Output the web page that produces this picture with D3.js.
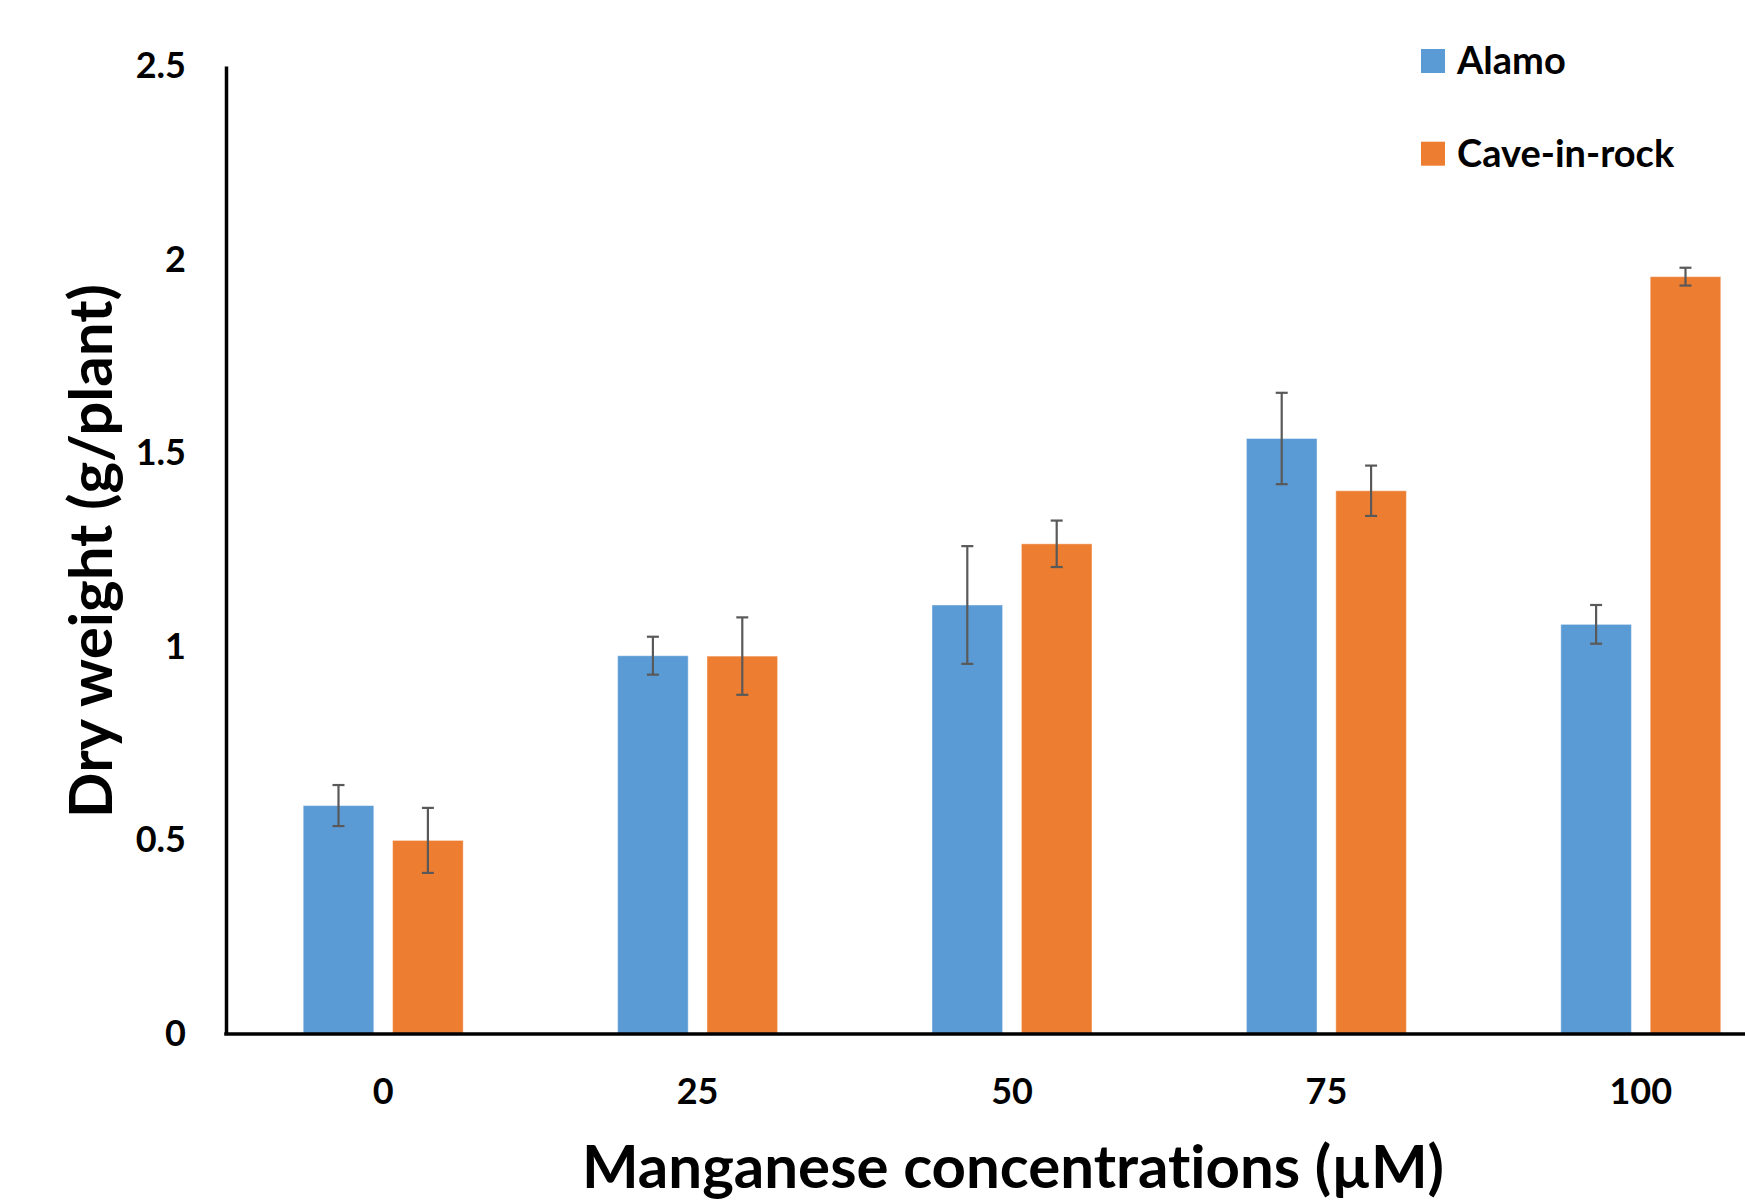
<!DOCTYPE html>
<meta charset="utf-8">
<style>
  body {
    margin: 0;
    background: #fff;
    font-family: Lato, "Open Sans", Arial, sans-serif;
  }

  text {
    font-weight: bold;
    fill: #000;
    font-variant-ligatures: none;
  }
</style>
<body>
  <svg id="chart" width="1745" height="1204"></svg>
</body>

<script src="https://d3js.org/d3.v7.min.js"></script>
<script>
  // data
  var concentrations = ["0", "25", "50", "75", "100"];
  var seriesNames = ["Alamo", "Cave-in-rock"];
  var seriesColors = ["#5B9BD5", "#ED7D31"];
  var alamo = [0.59, 0.977, 1.108, 1.538, 1.058];
  var alamoErr = [0.053, 0.049, 0.152, 0.118, 0.05];
  var caveInRock = [0.50, 0.976, 1.266, 1.403, 1.956];
  var caveInRockErr = [0.084, 0.10, 0.06, 0.065, 0.023];
  var yTicks = [0, 0.5, 1, 1.5, 2, 2.5];

  (function () {
    var values = [alamo, caveInRock],
      errors = [alamoErr, caveInRockErr];

    var svg = d3.select("#chart");

    // plot area (the category axis runs past the right edge, like the original)
    var mLeft = 226, mRight = 1798, mTop = 66, mBottom = 1034;

    var x0 = d3.scaleBand().domain(concentrations).range([mLeft, mRight]).padding(0),
      x1 = d3.scaleBand().domain(seriesNames).range([-80, 80]).paddingInner(0.21).paddingOuter(0),
      y = d3.scaleLinear().domain([0, 2.5]).range([mBottom, mTop]);

    // flatten into one row per bar
    var rows = [];
    concentrations.forEach(function (c, i) {
      seriesNames.forEach(function (s, j) {
        rows.push({ cat: c, series: s, idx: j, value: values[j][i], err: errors[j][i] });
      });
    });

    var cx = function (d) { return x0(d.cat) + x0.bandwidth() / 2; };

    // bars
    svg.append("g").selectAll("rect").data(rows).enter().append("rect")
      .attr("x", function (d) { return cx(d) + x1(d.series); })
      .attr("y", function (d) { return y(d.value); })
      .attr("width", x1.bandwidth())
      .attr("height", function (d) { return y(0) - y(d.value); })
      .attr("fill", function (d) { return seriesColors[d.idx]; })
      .attr("stroke", "rgba(255,255,255,0.45)")
      .attr("stroke-width", 1);

    // error bars
    var eg = svg.append("g").attr("stroke", "#595959").attr("stroke-width", 2.2);
    rows.forEach(function (d) {
      var mx = cx(d) + x1(d.series) + x1.bandwidth() / 2,
        hi = y(d.value + d.err), lo = y(d.value - d.err);
      eg.append("line").attr("x1", mx).attr("x2", mx).attr("y1", hi).attr("y2", lo);
      eg.append("line").attr("x1", mx - 6).attr("x2", mx + 6).attr("y1", hi).attr("y2", hi);
      eg.append("line").attr("x1", mx - 6).attr("x2", mx + 6).attr("y1", lo).attr("y2", lo);
    });

    // y axis
    var yAxis = svg.append("g")
      .attr("transform", "translate(" + mLeft + ",0)")
      .call(d3.axisLeft(y).tickValues(yTicks).tickSize(0).tickPadding(40).tickFormat(d3.format("")));
    yAxis.select(".domain").attr("stroke", "#000").attr("stroke-width", 3.5);
    yAxis.selectAll("text")
      .attr("font-family", "Lato, 'Open Sans', sans-serif")
      .attr("font-size", 36).attr("font-weight", "bold").attr("fill", "#000");

    // x axis
    var xAxis = svg.append("g")
      .attr("transform", "translate(0," + mBottom + ")")
      .call(d3.axisBottom(x0).tickSize(0).tickPadding(44));
    xAxis.select(".domain").attr("stroke", "#000").attr("stroke-width", 3.5)
      .attr("d", "M" + (mLeft - 1.75) + ",0H" + mRight);
    xAxis.selectAll("text")
      .attr("font-family", "Lato, 'Open Sans', sans-serif")
      .attr("font-size", 36).attr("font-weight", "bold").attr("fill", "#000");

    // axis titles
    svg.append("text")
      .attr("x", 1013).attr("y", 1188)
      .attr("text-anchor", "middle")
      .attr("font-size", 60)
      .text("Manganese concentrations (µM)");

    svg.append("text")
      .attr("transform", "translate(112,551) rotate(-90)")
      .attr("text-anchor", "middle")
      .attr("font-size", 60)
      .text("Dry weight (g/plant)");

    // legend
    var legend = svg.append("g").selectAll("g").data(seriesNames).enter().append("g")
      .attr("transform", function (d, i) { return "translate(1421," + (49 + i * 92.7) + ")"; });
    legend.append("rect")
      .attr("width", 24).attr("height", 24)
      .attr("fill", function (d, i) { return seriesColors[i]; });
    legend.append("text")
      .attr("x", 36).attr("y", 25)
      .attr("font-size", 38)
      .text(function (d) { return d; });
  })();
</script>
